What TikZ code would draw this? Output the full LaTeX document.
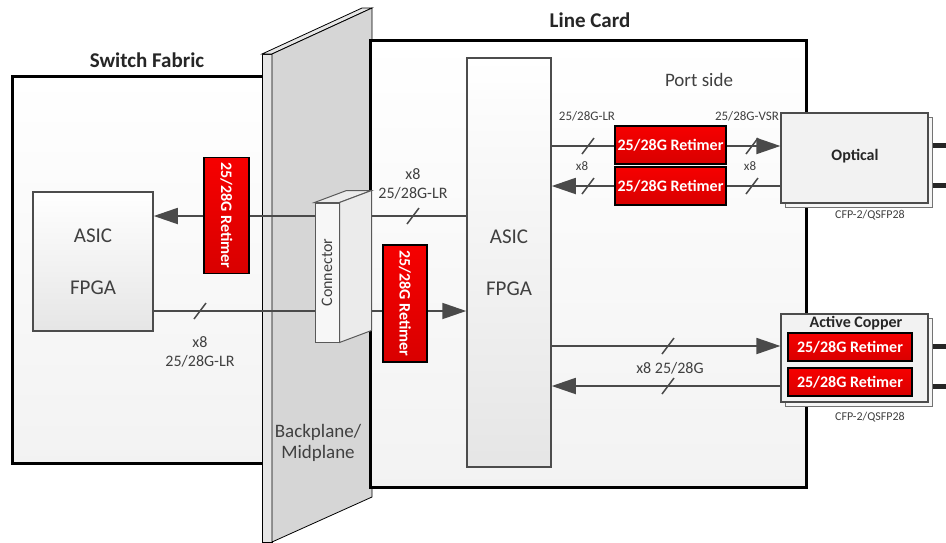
\documentclass[tikz,border=0pt]{standalone}
\usepackage{fontspec}
\setmainfont{Carlito}
\usetikzlibrary{arrows.meta,calc}
\definecolor{wirec}{HTML}{4A4A4A}
\definecolor{txt}{HTML}{404040}
\definecolor{bpface}{HTML}{D6D6D6}
\definecolor{bpside}{HTML}{E6E6E6}
\definecolor{retred}{HTML}{F60000}
\tikzset{
  frame/.style={draw=black, line width=3pt, top color=white, bottom color=black!5, inner sep=0pt},
  chip/.style={draw=black!70, line width=1.5pt, top color=white, bottom color=black!10, inner sep=0pt},
  retimer/.style={draw=black, line width=1.5pt, top color=retred, bottom color=retred!88!black, text=white, font=\bfseries\fontsize{16}{18}\selectfont, inner sep=0pt},
  module/.style={draw=black!70, line width=1.2pt, fill=black!5, inner sep=0pt},
  modshadow/.style={draw=black!55, line width=1pt, fill=black!4, inner sep=0pt},
  wire/.style={draw=wirec, line width=1.8pt},
  tip/.style={-{Triangle[length=24pt,width=16pt]}},
  stub/.style={draw=black!85, line width=5pt},
  slash/.style={draw=wirec, line width=1.5pt},
  title/.style={font=\bfseries\fontsize{21}{24}\selectfont, text=black!85},
  big/.style={font=\fontsize{21}{24}\selectfont, text=txt},
  lbl/.style={font=\fontsize{16}{18}\selectfont, text=txt, inner sep=0pt},
  small/.style={font=\fontsize{13}{15}\selectfont, text=txt, inner sep=0pt},
  tiny/.style={font=\fontsize{12}{14}\selectfont, text=txt, inner sep=0pt},
  modtitle/.style={font=\bfseries\fontsize{16}{18}\selectfont, text=black!85, inner sep=0pt},
  connface/.style={draw=black!65, line width=1pt},
}
\begin{document}
\begin{tikzpicture}[x=1pt,y=-1pt]
\useasboundingbox[fill=white] (0,0) rectangle (946,542);

% Switch fabric box
\node[frame, minimum width=258pt, minimum height=387pt] (sf) at (141,269.5) {};
\node[title] (sftitle) at (147,60) {Switch Fabric};

% Backplane
\fill[bpside, draw=black, line width=0.8pt] (262,54) -- (272,54) -- (272,542) -- (262,542) -- cycle;
\fill[bpside, draw=black, line width=0.8pt] (262,54) -- (362,8) -- (372,8) -- (272,54) -- cycle;
\fill[bpface, draw=black, line width=0.8pt] (272,54) -- (372,8) -- (372,497) -- (272,542) -- cycle;
\node[lbl, font=\fontsize{19}{21}\selectfont, align=center] (bp) at (318,443) {Backplane/\\Midplane};

% Line card box
\node[frame, minimum width=436pt, minimum height=447pt] (lc) at (588,263.5) {};
\node[title] (lctitle) at (590,20) {Line Card};
\node[lbl, font=\fontsize{19}{21}\selectfont] (port) at (699,80) {Port side};

% chips
\node[chip, minimum width=120pt, minimum height=139pt] (sfasic) at (93,261.5) {};
\node[big] (sfa1) at (93,236) {ASIC};
\node[big] (sfa2) at (93,288) {FPGA};
\node[chip, minimum width=84pt, minimum height=409pt] (lcasic) at (509,262.5) {};
\node[big] (lca1) at (509,237) {ASIC};
\node[big] (lca2) at (509,289) {FPGA};

% wire rows
\coordinate (rA) at (0,216);
\coordinate (rB) at (0,311);
\coordinate (rC) at (0,146);
\coordinate (rD) at (0,186);
\coordinate (rE) at (0,346);
\coordinate (rF) at (0,386);

% modules (positions needed for wires)
\node[modshadow, minimum width=147pt, minimum height=90pt] (optsh) at (858.5,162) {};
\node[module, minimum width=147pt, minimum height=90pt] (opt) at (854.5,158) {};
\node[modshadow, minimum width=147pt, minimum height=88pt] (cush) at (858.5,362) {};
\node[module, minimum width=147pt, minimum height=88pt] (cu) at (854.5,358) {};

% wires
\draw[wire, tip] (lcasic.west |- rA) -- (sfasic.east |- rA);
\draw[wire, tip] (sfasic.east |- rB) -- (lcasic.west |- rB);
\draw[wire, tip] (lcasic.east |- rC) -- (opt.west |- rC);
\draw[wire, tip] (opt.west |- rD) -- (lcasic.east |- rD);
\draw[wire, tip] (lcasic.east |- rE) -- (cu.west |- rE);
\draw[wire, tip] (cu.west |- rF) -- (lcasic.east |- rF);

% stubs to the right
\coordinate (eC) at (946,145);
\coordinate (eD) at (946,185);
\coordinate (eE) at (946,346);
\coordinate (eF) at (946,386);
\draw[stub] (optsh.east |- eC) -- (eC);
\draw[stub] (optsh.east |- eD) -- (eD);
\draw[stub] (cush.east |- eE) -- (eE);
\draw[stub] (cush.east |- eF) -- (eF);

% connector
\node[connface, fill=black!3, minimum width=24pt, minimum height=139pt, inner sep=0pt] (conn) at (327,272.5) {};
\fill[black!8, draw=black!65, line width=1pt] (conn.north west) -- (conn.north east) -- ([shift={(32,-12)}]conn.north east) -- ([shift={(32,-12)}]conn.north west) -- cycle;
\fill[black!8, draw=black!65, line width=1pt] (conn.north east) -- ([shift={(32,-12)}]conn.north east) -- ([shift={(32,-12)}]conn.south east) -- (conn.south east) -- cycle;
\node[lbl, rotate=90] (connt) at (conn.center) {Connector};

% retimers
\node[retimer, rotate=-90, minimum width=116pt, minimum height=45pt] (sfret) at (226.5,215.5) {25/28G Retimer};
\node[retimer, rotate=-90, minimum width=117pt, minimum height=44pt] (lcret) at (405,303.5) {25/28G Retimer};
\node[retimer, minimum width=111pt, minimum height=38pt] (ret1) at (670.5,145) {25/28G Retimer};
\node[retimer, minimum width=111pt, minimum height=38pt] (ret2) at (670.5,186) {25/28G Retimer};
\node[retimer, minimum width=124pt, minimum height=28pt] (cret1) at (850,347) {25/28G Retimer};
\node[retimer, minimum width=124pt, minimum height=28pt] (cret2) at (850,382) {25/28G Retimer};

% module labels
\node[modtitle] (optt) at (855,156) {Optical};
\node[modtitle] (cut) at (856,323) {Active Copper};
\node[tiny] (optl) at (870,215) {CFP-2/QSFP28};
\node[tiny] (cul) at (870,417) {CFP-2/QSFP28};

% slashes
\coordinate (s1) at (413,216);
\coordinate (s2) at (200,311);
\coordinate (s3) at (588,146);
\coordinate (s4) at (752,146);
\coordinate (s5) at (588,186);
\coordinate (s6) at (752,186);
\coordinate (s7) at (668,346);
\coordinate (s8) at (668,386);
\foreach \s in {s1,s2,s3,s4,s5,s6,s7,s8}
  \draw[slash] ([shift={(-6,8)}]\s) -- ([shift={(6,-8)}]\s);

% wire labels
\node[lbl] (l1a) at (413,174) {x8};
\node[lbl] (l1b) at (413,193) {25/28G-LR};
\node[lbl] (l2a) at (200,342) {x8};
\node[lbl] (l2b) at (200,361) {25/28G-LR};
\node[small] (l3) at (587,116) {25/28G-LR};
\node[small] (l4) at (747,116) {25/28G-VSR};
\node[small] (l5) at (582,166) {x8};
\node[small] (l6) at (750,166) {x8};
\node[lbl] (l7) at (670,368) {x8 25/28G};
\end{tikzpicture}
\end{document}
